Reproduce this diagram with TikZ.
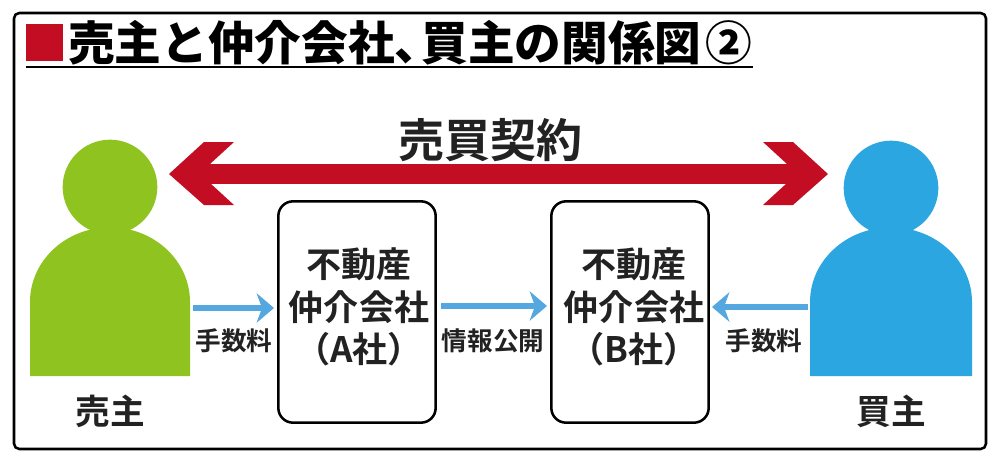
\documentclass[tikz,border=0pt]{standalone}
\usepackage{fontspec}
\setmainfont{Noto Sans CJK JP}[BoldFont={Noto Sans CJK JP Bold}]
\newfontfamily\titlefont{Noto Sans CJK JP Black}
\usetikzlibrary{arrows.meta}
\definecolor{dealred}{HTML}{C30D23}
\definecolor{sellergreen}{HTML}{8FC31F}
\definecolor{buyerblue}{HTML}{2CA6E0}
\definecolor{flowblue}{HTML}{55A8DF}
\definecolor{inkgray}{HTML}{222222}
\tikzset{
head/.style={circle,inner sep=0pt,minimum size=71pt},
firm/.style={draw=black,line width=1.9pt,rounded corners=11pt,minimum width=118pt,minimum height=166pt,inner sep=0pt},
firmtext/.style={align=center,inner sep=0pt,font=\fontsize{26.3}{32}\selectfont\bfseries,text=inkgray},
flow/.style={draw=flowblue,line width=5pt,-{Stealth[length=13pt,width=22pt,inset=4pt]}},
small/.style={font=\fontsize{19.2}{20}\selectfont\bfseries,text=inkgray,inner sep=0pt},
party/.style={font=\fontsize{26}{28}\selectfont\bfseries,text=inkgray,inner sep=0pt}
}
\begin{document}
\begin{tikzpicture}[x=0.75pt,y=-0.75pt,line join=round]
\useasboundingbox (0,0) rectangle (1000,458);
\fill[white] (0,0) rectangle (1000,458);
\draw[line width=1.9pt,rounded corners=4pt] (14,13) rectangle (986,449);
% title
\fill[dealred] (26,24) rectangle (63,61);
\node[anchor=west,inner sep=0pt,font=\fontsize{35}{36}\selectfont\titlefont] (title) at (68,43) {売主と仲介会社、\kern-15pt 買主の関係図\kern3pt ②};
\draw[line width=2pt] (26,67)--(753,67);
% persons
\fill[sellergreen] (30,376)--(30,302) arc[start angle=180,end angle=0,x radius=60pt,y radius=56pt]--(190,376)--cycle;
\node[head,fill=sellergreen] (sellerhead) at (110,187) {};
\fill[buyerblue] (810,376)--(810,302) arc[start angle=180,end angle=0,x radius=60.75pt,y radius=56pt]--(972,376)--cycle;
\node[head,fill=buyerblue] (buyerhead) at (891,188) {};
\node[party] (seller) at (110,411) {売主};
\node[party] (buyer) at (891,411) {買主};
% boxes
\node[firm] (firmA) at (357,312) {};
\node[firm] (firmB) at (630,312) {};
\node[firmtext] (firmAtext) at (359,307) {不動産\\仲介会社\\（A社）};
\node[firmtext] (firmBtext) at (634,307) {不動産\\仲介会社\\（B社）};
\path
(169,174) coordinate (dealL)
(828,174) coordinate (dealR)
(193,308) coordinate (feeS)
(274,308) coordinate (feeA)
(441,306) coordinate (infoA)
(547,306) coordinate (infoB)
(808,307) coordinate (feeB)
(712,307) coordinate (feeBin)
;
% contract arrow
\draw[dealred,line width=14.5pt,shorten <=30pt,shorten >=30pt] (dealL)--(dealR);
\foreach \tip/\s in {dealL/1,dealR/-1}
\fill[dealred] (\tip)--++(\s*35,-32)--++(\s*30,0)--++(\s*-24,22)--++(0,19)--++(\s*24,22)--++(\s*-30,0)--cycle;
\node[font=\fontsize{34.5}{36}\selectfont\bfseries,text=inkgray,inner sep=0pt] (deal) at (490,140) {売買契約};
% flows
\draw[flow] (feeS)--(feeA);
\draw[flow] (infoA)--(infoB);
\draw[flow] (feeB)--(feeBin);
\node[small] (feeSlbl) at (234,341) {手数料};
\node[small] (infolbl) at (493,341) {情報公開};
\node[small] (feeBlbl) at (764,341) {手数料};
\end{tikzpicture}
\end{document}
